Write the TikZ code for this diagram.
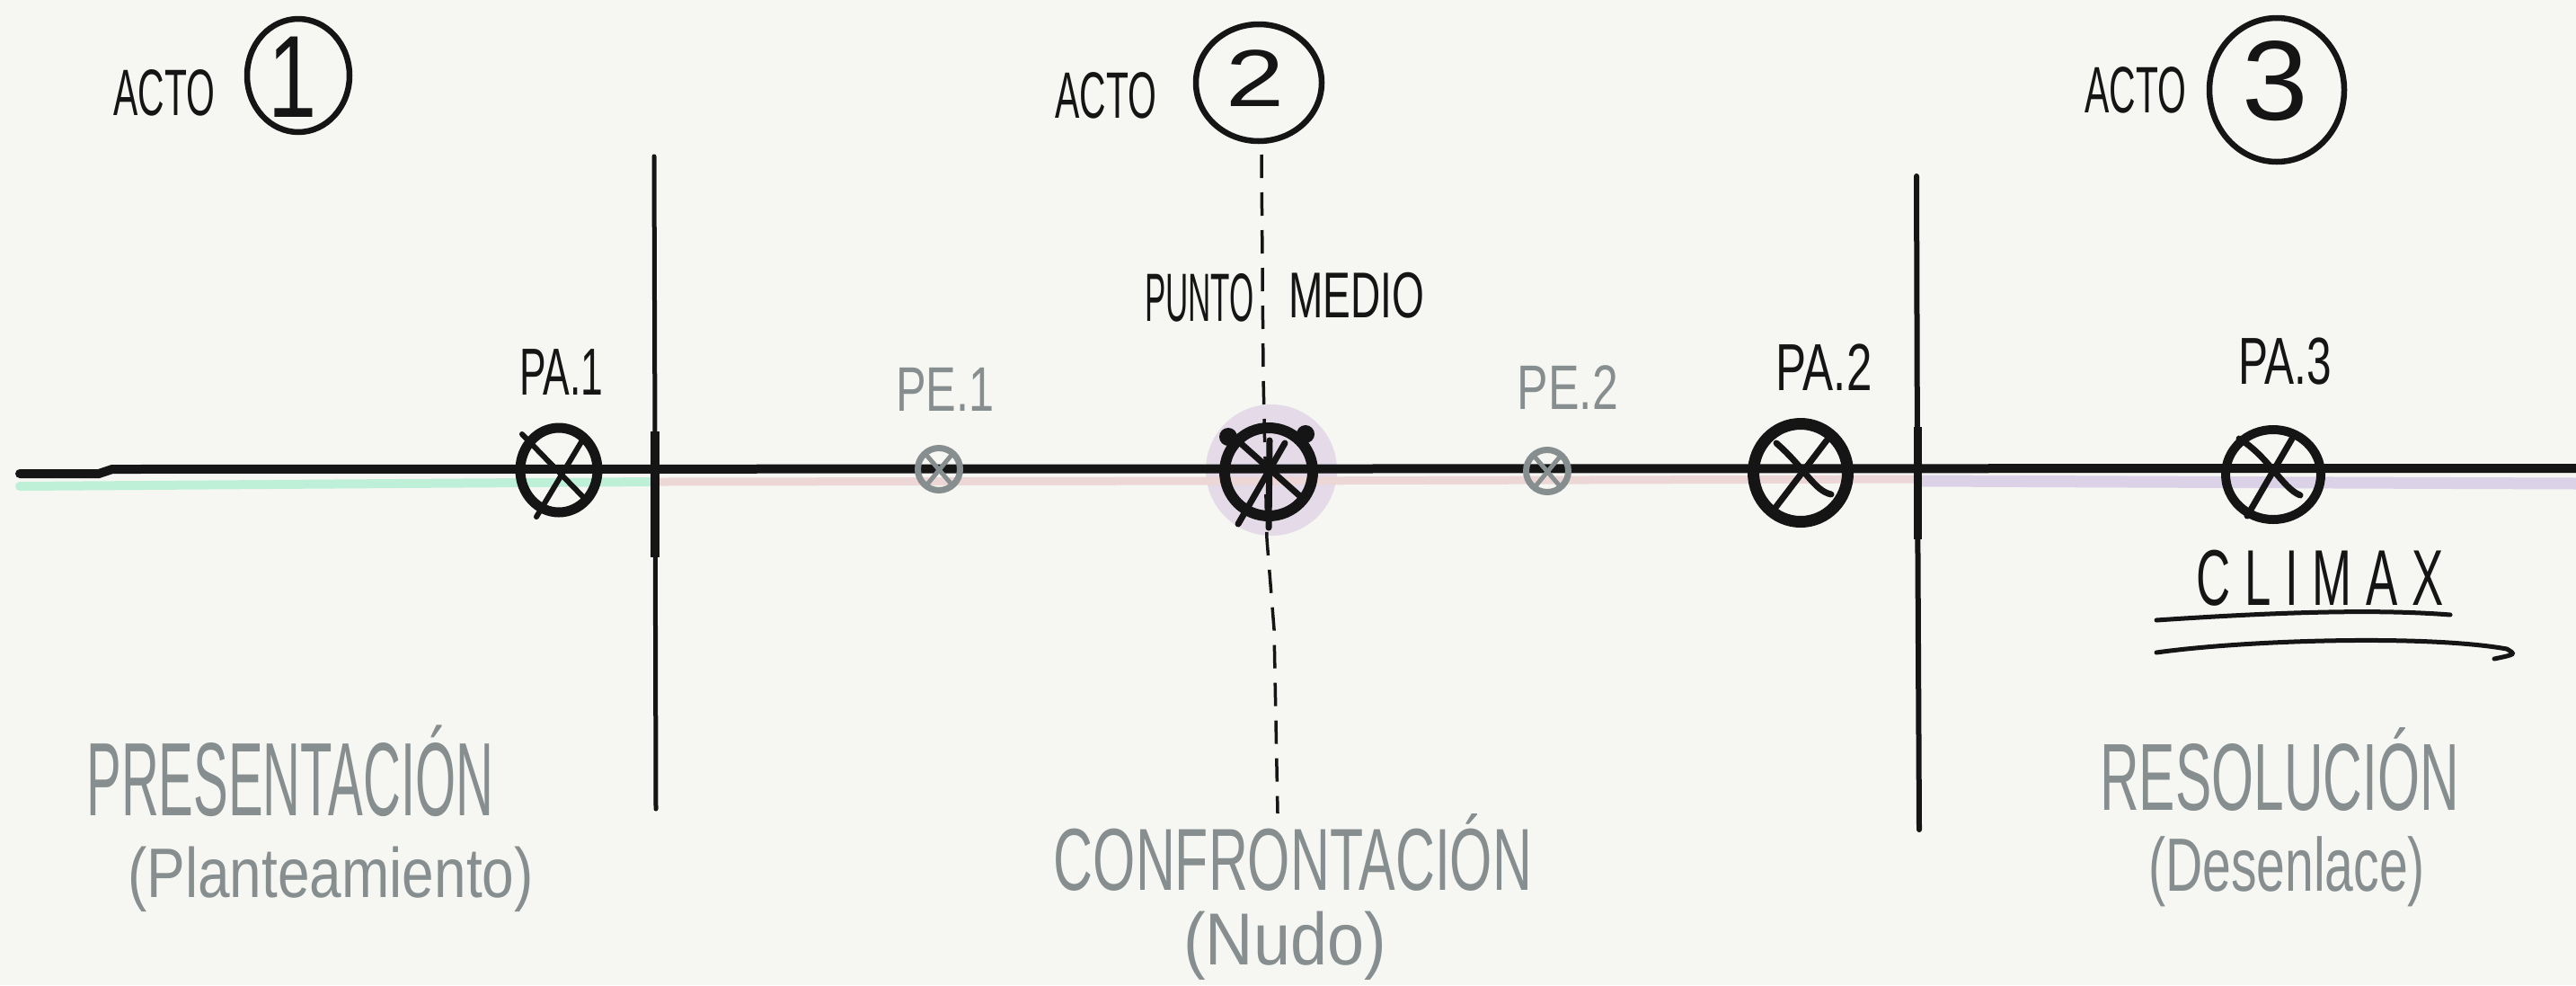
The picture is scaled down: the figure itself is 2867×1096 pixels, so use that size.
\documentclass[tikz,border=0pt]{standalone}
\usepackage{fontspec}
\setmainfont{Liberation Sans}
\newfontfamily\spacedfont[LetterSpace=30]{Liberation Sans}
\usetikzlibrary{shapes.geometric}
\definecolor{bg}{RGB}{246,247,242}
\definecolor{ink}{RGB}{21,21,21}
\definecolor{pen}{RGB}{135,142,143}
\definecolor{mint}{RGB}{190,240,215}
\definecolor{rose}{RGB}{236,214,214}
\definecolor{lilac}{RGB}{220,210,232}
\definecolor{halo}{RGB}{228,218,232}
\newcommand{\hw}[3]{\scalebox{#1}[1]{\fontsize{#2}{#2}\selectfont #3}}
\tikzset{
  lbl/.style={inner sep=0pt, outer sep=0pt, text=ink},
  note/.style={inner sep=0pt, outer sep=0pt, text=pen},
  actring/.style={ellipse, draw=ink, line width=6.5pt, inner sep=0pt},
  bigmark/.style={ellipse, draw=ink, inner sep=0pt},
  smallmark/.style={circle, draw=pen, line width=7pt, inner sep=0pt, minimum size=47pt},
  xstroke/.style={draw=ink, line width=6pt, line cap=round},
  gxstroke/.style={draw=pen, line width=5pt, line cap=round},
  band/.style={line width=10pt, line cap=round},
  divider/.style={draw=ink, line width=5pt, line cap=round},
  midline/.style={draw=ink, line width=3.5pt, dash pattern=on 26pt off 16pt}
}
\begin{document}
\begin{tikzpicture}[x=1pt,y=-1pt]
\fill[bg] (0,0) rectangle (2867,1096);
\useasboundingbox (0,0) rectangle (2867,1096);

% ---- act headings
\node[lbl] (acto1) at (183,103) {\hw{0.56}{73}{ACTO}};
\node[actring, minimum width=114pt, minimum height=126pt] (ring1) at (332,84) {};
\node[lbl] (num1) at (326,86) {\hw{0.75}{130}{1}};
\node[lbl] (acto2) at (1231,106) {\hw{0.56}{73}{ACTO}};
\node[actring, minimum width=140pt, minimum height=130pt] (ring2) at (1401,92) {};
\node[lbl] (num2) at (1397,87) {\hw{1.3}{90}{2}};
\node[lbl] (acto3) at (2377,100) {\hw{0.56}{73}{ACTO}};
\node[actring, minimum width=150pt, minimum height=160pt] (ring3) at (2534,100) {};
\node[lbl] (num3) at (2532,90) {\hw{1.05}{126}{3}};

% ---- coordinates
\coordinate (tlA) at (22,527);
\coordinate (tlB) at (2867,521);
\coordinate (d1top) at (728,174);
\coordinate (d1bot) at (730,900);
\coordinate (d2top) at (2133,196);
\coordinate (d2bot) at (2136,923);
\coordinate (mtop) at (1404,172);
\coordinate (mbot) at (1422,905);

% ---- halo of midpoint
\fill[halo] (1415,523) circle[radius=73pt];

% ---- coloured bands
\draw[band, mint] (22,541) -- (300,539) -- (728,536);
\draw[band, rose, line width=9pt] (735,536) -- (1400,535) -- (2130,533);
\draw[band, lilac, line width=13pt] (2140,535) -- (2600,537) -- (2867,538);

% ---- main timeline
\draw[ink, line width=10pt, line cap=round] (tlA) -- (110,527) -- (125,522) -- (tlB);

% ---- act dividers
\draw[divider] (d1top) -- (729,500) -- (d1bot);
\draw[ink, line width=10pt] (729,480) -- (729,620);
\draw[divider, line width=6pt] (d2top) -- (2134,520) -- (d2bot);
\draw[ink, line width=9pt] (2134,475) -- (2134,600);

% ---- midpoint dashed line
\draw[midline] (mtop) -- (1406,420) -- (1410,600) -- (1418,700) -- (mbot);

% ---- labels above points
\node[lbl] (lpa1) at (625,414) {\hw{0.6}{74}{PA.1}};
\node[note] (lpe1) at (1052,433) {\hw{0.72}{70}{PE.1}};
\node[lbl] (punto) at (1335,331) {\hw{0.46}{76}{PUNTO}};
\node[lbl] (medio) at (1510,329) {\hw{0.64}{72}{MEDIO}};
\node[note] (lpe2) at (1745,431) {\hw{0.74}{70}{PE.2}};
\node[lbl] (lpa2) at (2030,409) {\hw{0.69}{74}{PA.2}};
\node[lbl] (lpa3) at (2543,402) {\hw{0.67}{74}{PA.3}};

% ---- markers
\node[bigmark, line width=11pt, minimum width=86pt, minimum height=94pt] (pa1) at (622,523) {};
\draw[xstroke] ([shift={(-41,-40)}]pa1.center) -- ([shift={(29,32)}]pa1.center);
\draw[xstroke] ([shift={(-25,52)}]pa1.center) -- ([shift={(26,-33)}]pa1.center);

\node[smallmark] (pe1) at (1045,522) {};
\draw[gxstroke] ([shift={(-15,-17)}]pe1.center) -- ([shift={(15,18)}]pe1.center);
\draw[gxstroke] ([shift={(-14,18)}]pe1.center) -- ([shift={(15,-17)}]pe1.center);

\node[bigmark, line width=12pt, minimum size=98pt] (mid) at (1412,525) {};
\draw[xstroke, line width=7pt] ([shift={(-34,58)}]mid.center) -- ([shift={(18,-32)}]mid.center);
\draw[xstroke, line width=7pt] ([shift={(-37,-37)}]mid.center) -- ([shift={(36,28)}]mid.center);
\draw[xstroke, line width=7pt] ([shift={(1,-35)}]mid.center) -- ([shift={(0,62)}]mid.center);
\fill[ink] ([shift={(-45,-39)}]mid.center) circle[radius=10pt];
\fill[ink] ([shift={(41,-42)}]mid.center) circle[radius=10pt];

\node[smallmark] (pe2) at (1722,524) {};
\draw[gxstroke] ([shift={(-15,-17)}]pe2.center) -- ([shift={(15,18)}]pe2.center);
\draw[gxstroke] ([shift={(-14,18)}]pe2.center) -- ([shift={(15,-17)}]pe2.center);

\node[bigmark, line width=13pt, minimum width=105pt, minimum height=109pt] (pa2) at (2004,526) {};
\draw[xstroke, line width=7pt] ([shift={(-32,44)}]pa2.center) -- ([shift={(29,-36)}]pa2.center);
\draw[xstroke, line width=7pt] ([shift={(-27,-33)}]pa2.center) .. controls ([shift={(5,-5)}]pa2.center) and ([shift={(15,20)}]pa2.center) .. ([shift={(34,24)}]pa2.center);

\node[bigmark, line width=10pt, minimum width=106pt, minimum height=100pt] (pa3) at (2530,528) {};
\draw[xstroke, line width=7pt] ([shift={(-29,46)}]pa3.center) -- ([shift={(21,-40)}]pa3.center);
\draw[xstroke, line width=7pt] ([shift={(-38,-40)}]pa3.center) .. controls ([shift={(-5,-20)}]pa3.center) and ([shift={(10,15)}]pa3.center) .. ([shift={(30,23)}]pa3.center);

% ---- climax
\node[lbl] (climax) at (2582,643) {\scalebox{0.6}[1]{\spacedfont\fontsize{88}{88}\selectfont CLIMAX}};
\coordinate (u1a) at (2400,690);
\coordinate (u1b) at (2727,684);
\coordinate (u2a) at (2400,726);
\coordinate (u2b) at (2776,733);
\draw[ink, line width=5pt, line cap=round] (u1a) .. controls (2550,680) and (2650,678) .. (u1b);
\draw[ink, line width=5pt, line cap=round] (u2a) .. controls (2500,712) and (2700,706) .. (2790,722) .. controls (2800,728) .. (u2b);

% ---- act names
\node[note] (pres) at (323,858) {\hw{0.5}{116}{PRESENTACIÓN}};
\node[note] (plan) at (368,978) {\hw{0.82}{78}{(Planteamiento)}};
\node[note] (conf) at (1439,948) {\hw{0.62}{98}{CONFRONTACIÓN}};
\node[note] (nudo) at (1430,1052) {\hw{0.9}{82}{(Nudo)}};
\node[note] (reso) at (2537,856) {\hw{0.57}{106}{RESOLUCIÓN}};
\node[note] (dese) at (2545,970) {\hw{0.68}{84}{(Desenlace)}};
\end{tikzpicture}
\end{document}
